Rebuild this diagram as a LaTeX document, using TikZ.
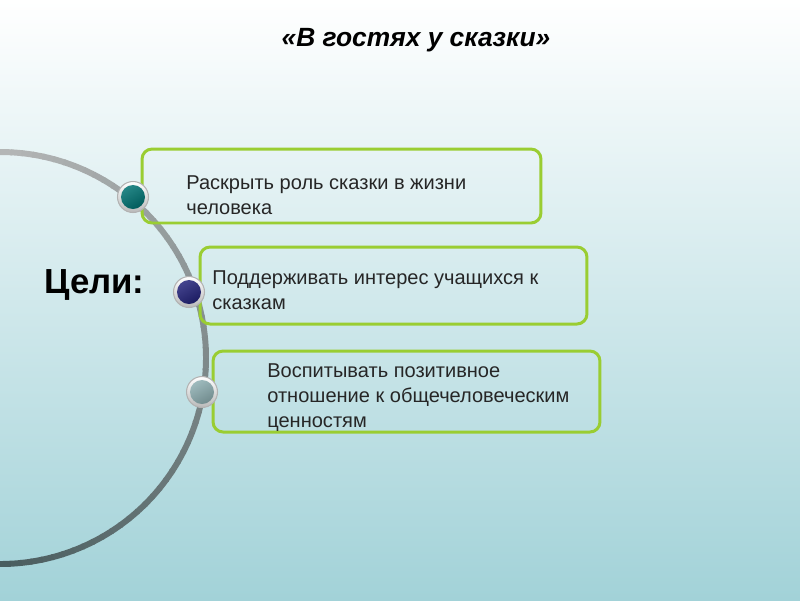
\documentclass[tikz,border=0pt]{standalone}
\usepackage{fontspec}
\setmainfont{Liberation Sans}
\definecolor{bgmid}{HTML}{D4EBEE}
\definecolor{bgbot}{HTML}{A2D2D8}
\definecolor{arctop}{HTML}{B4B6B6}
\definecolor{arcbot}{HTML}{475B5D}
\definecolor{goalgreen}{HTML}{9ACD32}
\definecolor{tealball}{HTML}{007272}
\definecolor{navyball}{HTML}{23237A}
\definecolor{greyball}{HTML}{8DAEB1}
\tikzset{
  goalbox/.style={draw=goalgreen,line width=1.7pt,rounded corners=0.2cm},
  goaltext/.style={anchor=west,align=left,inner sep=0pt,text=black!85,
    font=\fontsize{11.4}{14.2}\selectfont},
  ring/.style={circle,minimum size=0.62cm,inner sep=0pt,draw=gray!60,
    line width=0.6pt,top color=white,bottom color=gray!55},
  ball/.style={circle,minimum size=0.48cm,inner sep=0pt,
    top color=#1!85!white,bottom color=#1!80!black,shading angle=30}
}
\begin{document}
\begin{tikzpicture}[x=0.02cm,y=-0.02cm]
\useasboundingbox (0,0) rectangle (800,600);
\shade[top color=white,middle color=bgmid,bottom color=bgbot] (0,0) rectangle (800,600);
\foreach \a in {-90,-87,...,87}{
  \pgfmathtruncatemacro\t{(\a+90)/1.8}
  \draw[arcbot!\t!arctop,line width=3.4pt]
    ({206*cos(\a)},{358+206*sin(\a)}) arc[start angle=\a,end angle=\a+3.4,radius=206];
}
\node[font=\bfseries\itshape\fontsize{15}{18}\selectfont] (title) at (416,40) {«В гостях у сказки»};
\node[anchor=west,inner sep=0pt,font=\bfseries\fontsize{19.8}{23}\selectfont] (goals) at (44,285) {Цели:};
\node[goalbox,minimum width=7.98cm,minimum height=1.48cm] (box1) at (341.5,186) {};
\node[goalbox,minimum width=7.74cm,minimum height=1.54cm] (box2) at (393.5,285.5) {};
\node[goalbox,minimum width=7.74cm,minimum height=1.62cm] (box3) at (406.5,391.5) {};
\node[goaltext] (txt1) at (186,195.5) {Раскрыть роль сказки в жизни\\человека};
\node[goaltext] (txt2) at (212,290) {Поддерживать интерес учащихся к\\сказкам};
\node[goaltext] (txt3) at (267,398) {Воспитывать позитивное\\отношение к общечеловеческим\\ценностям};
\node[ring] (dot1) at (133,197) {};
\node[ball=tealball] (dot1in) at (dot1) {};
\node[ring] (dot2) at (189,292) {};
\node[ball=navyball] (dot2in) at (dot2) {};
\node[ring] (dot3) at (202,392) {};
\node[ball=greyball] (dot3in) at (dot3) {};
\end{tikzpicture}
\end{document}
